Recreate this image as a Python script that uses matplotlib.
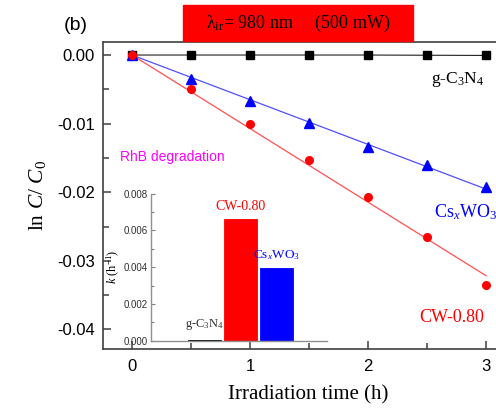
import numpy as np
import matplotlib.pyplot as plt
from matplotlib.patches import Rectangle

plt.rcParams['mathtext.fontset'] = 'custom'
plt.rcParams['mathtext.rm'] = 'Liberation Serif'
plt.rcParams['mathtext.it'] = 'Liberation Serif:italic'
plt.rcParams['font.family'] = 'Liberation Sans'

# data
time_h = [0, 0.5, 1, 1.5, 2, 2.5, 3]
ln_gcn = [0, 0, 0, 0, 0, -0.00003, -0.00006]
ln_csxwo3 = [0, -0.00345, -0.0067, -0.0099, -0.0134, -0.0161, -0.0193]
ln_cw080 = [0, -0.0050, -0.0101, -0.0153, -0.0207, -0.0266, -0.0335]

# inset: rate constants
k_names = ['g-C$_3$N$_4$', 'CW-0.80', 'Cs$_x$WO$_3$']
k_values = [0.00003, 0.00664, 0.00396]
k_colors = ['black', '#ff0000', '#0000ff']

serif = 'Liberation Serif'
spine_col = '#404040'

W, H = 496, 408
fig = plt.figure(figsize=(W / 100, H / 100), dpi=100)

# main axes (right part runs off the picture like in the source)
ax = fig.add_axes([103 / W, 59 / H, 410 / W, 307 / H])
t = np.array(time_h)


def origin_fit(x, y):
    x = np.asarray(x)
    y = np.asarray(y)
    return np.sum(x * y) / np.sum(x * x)


tt = np.array([0, 3])
ax.plot(t, ln_gcn, color='#202020', lw=0.8)
ax.plot(tt, origin_fit(t, ln_csxwo3) * tt, color='#5050ff', lw=0.9)
ax.plot(tt, origin_fit(t, ln_cw080) * tt, color='#ff5050', lw=0.9)
ax.plot(t, ln_gcn, 's', color='black', ms=5.5, ls='none')
ax.plot(t, ln_csxwo3, '^', color='#0000ff', ms=7, ls='none')
ax.plot(t, ln_cw080, 'o', color='#ff0000', ms=5.5, ls='none')

ax.set_xlim(-0.246, 3.229)
ax.set_ylim(-0.04286, 0.0019)
ax.set_xticks([0, 1, 2, 3])
ax.set_xticks([0.5, 1.5, 2.5], minor=True)
ax.set_yticks([0, -0.01, -0.02, -0.03, -0.04])
ax.set_yticks([-0.005, -0.015, -0.025, -0.035], minor=True)
ax.set_yticklabels(['0.00', '-0.01', '-0.02', '-0.03', '-0.04'])
ax.tick_params(which='both', direction='in', colors=spine_col, labelcolor='black',
               labelsize=12, width=1.1)
ax.tick_params(which='major', length=5.5)
ax.tick_params(which='minor', length=4)
ax.tick_params(axis='y', pad=6)
ax.tick_params(axis='x', pad=7)
for s in ax.spines.values():
    s.set_color(spine_col)
    s.set_linewidth(1.2)

ax.set_xlabel('Irradiation time (h)', family=serif, fontsize=15, labelpad=8)
ax.set_ylabel(r'ln $C$/ $C_\mathit{0}$', family=serif, fontsize=15.5, labelpad=6)

ax.text(2.76, -0.0036, 'g-C$_3$N$_4$', family=serif, fontsize=12.5, ha='center', va='center')
ax.text(2.83, -0.0229, 'Cs$_x$WO$_3$', family=serif, fontsize=13, color='#0000ff',
        ha='center', va='center')
ax.text(2.71, -0.0383, 'CW-0.80', family=serif, fontsize=13, color='#ff0000',
        ha='center', va='center')
ax.text(-0.10, -0.0149, 'RhB degradation', fontsize=10, color='#ff00ff', va='center')

# header box and panel letter
fig.patches.append(Rectangle((183 / W, 1 - 40.7 / H), 230 / W, 35.7 / H,
                             transform=fig.transFigure, color='#ff0000', zorder=0))
fig.text(298 / W, 1 - 23 / H, 'λ$_{\\mathrm{ir}}$= 980 nm     (500 mW)',
         family=serif, fontsize=13, ha='center', va='center')
fig.text(76 / W, 1 - 25 / H, '(b)', fontsize=14, ha='center', va='center')

# inset bar chart
ins = fig.add_axes([150.7 / W, 67.3 / H, 176 / W, 147 / H])
ins.patch.set_alpha(0)
pos = np.arange(1, len(k_values) + 1)
ins.bar(pos, k_values, width=0.94, color=k_colors, edgecolor=k_colors, lw=0.6)
ins.set_xlim(-0.5, 4.4)
ins.set_ylim(0, 0.008)
ins.set_xticks([])
ins.set_yticks([0, 0.002, 0.004, 0.006, 0.008])
ins.set_yticks(np.arange(0.001, 0.008, 0.002), minor=True)
ins.set_yticklabels(['0.000', '0.002', '0.004', '0.006', '0.008'])
ins.tick_params(which='both', direction='in', colors='#808080', labelcolor='#303030',
                labelsize=7, width=0.8, pad=2)
ins.tick_params(which='major', length=3)
ins.tick_params(which='minor', length=2)
for side in ['top', 'right']:
    ins.spines[side].set_visible(False)
for side in ['left', 'bottom']:
    ins.spines[side].set_color('#909090')
    ins.spines[side].set_linewidth(1.0)
ins.set_ylabel(r'$k$ (h$^{-1}$)', family=serif, fontsize=9, labelpad=1)

ins.annotate(k_names[0], (pos[0], k_values[0]), xytext=(0, 6), textcoords='offset points',
             family=serif, fontsize=9, color='#303030', ha='center', va='bottom')
ins.annotate(k_names[1], (pos[1], k_values[1]), xytext=(0, 4), textcoords='offset points',
             family=serif, fontsize=10, color='#ff0000', ha='center', va='bottom')
ins.annotate(k_names[2], (pos[2], k_values[2]), xytext=(0, 4), textcoords='offset points',
             family=serif, fontsize=9.5, color='#0000ff', ha='center', va='bottom')

fig.savefig('out.png', dpi=100)
